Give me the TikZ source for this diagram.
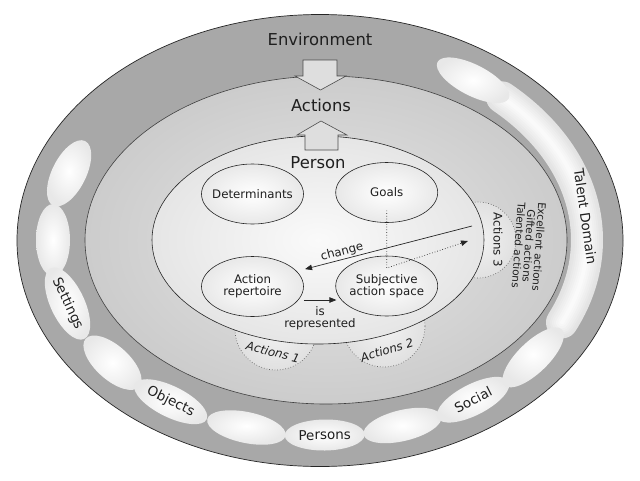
\documentclass[tikz,border=0pt]{standalone}
\usepackage{fontspec}
\setmainfont{DejaVu Sans}
\usetikzlibrary{shapes.geometric,arrows.meta,calc}
\begin{document}
\begin{tikzpicture}[x=1pt,y=-1pt,
  txt/.style={text=black!88, inner sep=0pt},
  big/.style={txt, font=\fontsize{16.4}{19}\selectfont},
  mid/.style={txt, font=\fontsize{11.8}{12.3}\selectfont, align=center},
  itl/.style={txt, font=\fontsize{11.8}{13}\selectfont\itshape},
  sml/.style={txt, font=\fontsize{10.5}{10.3}\selectfont, align=center},
  bl/.style={txt, font=\fontsize{13.5}{15}\selectfont},
  blob/.style={ellipse, inner sep=0pt, minimum width=80pt, minimum height=31pt,
    inner color=white, outer color=black!9, text=black!88, font=\fontsize{13.5}{15}\selectfont},
  sblob/.style={blob, minimum width=72pt, minimum height=34pt},
  inell/.style={ellipse, draw=black!85, line width=0.6pt, minimum width=102pt, minimum height=60pt,
    inner sep=0pt, inner color=white, outer color=black!9},
  acirc/.style={circle, draw=black!60, dotted, line width=0.7pt, minimum size=82pt, inner sep=0pt,
    inner color=black!5, outer color=black!12},
  conn/.style={draw=black!85, line width=0.7pt, -{Triangle[length=7pt,width=5.5pt]}},
  dconn/.style={conn, dotted},
  barrow/.style={draw=black!70, line width=0.6pt, fill=black!13, line join=miter}
]
\useasboundingbox (0,0) rectangle (640,480);
\fill[white] (0,0) rectangle (640,480);

% Environment
\node[ellipse, draw=black!85, line width=0.7pt, fill=black!34, minimum width=606pt,
  minimum height=452pt, inner sep=0pt] (env) at (320,240.5) {};

% long talent-domain blob
\foreach \w/\c in {32/11,28/10,24/8.5,20/7,16/6,12/4.5,8/3,4/2}{
  \draw[line width=\w pt, line cap=round, draw=black!\c]
    plot[domain=-25:47, samples=60] ({320+267*cos(\x)},{240-195*sin(\x)});
}

% blobs
\node[sblob, rotate=63.5] (blobA) at (69.1,173.3) {};
\node[sblob, rotate=90] (blobB) at (53,240) {};
\node[sblob, rotate=-64.8, minimum width=76pt] (settings) at (67.5,303.5) {Settings};
\node[sblob, rotate=-42] (blobC) at (112.5,362.7) {};
\node[blob, rotate=-26.2] (objects) at (170.7,401.7) {Objects};
\node[blob, rotate=-11.8] (blobD) at (246.4,427.5) {};
\node[blob, rotate=0.7] (persons) at (324.7,435) {Persons};
\node[blob, rotate=13.4] (blobE) at (402.5,425.5) {};
\node[blob, rotate=27.1] (social) at (473.1,399.7) {Social};
\node[blob, rotate=44.1] (blobF) at (533.2,357.4) {};
\node[blob, rotate=-27.1] (blobG) at (473.1,80.3) {};

% Actions ellipse
\node[ellipse, draw=black!75, line width=0.6pt, minimum width=482pt, minimum height=328pt,
  inner sep=0pt, inner color=black!10, outer color=black!20] (actell) at (326,240) {};

% action circles
\node[acirc] (act1) at (276,329) {};
\node[acirc] (act2) at (384,326) {};
\node[acirc, minimum size=76pt] (act3) at (478,240) {};

% Person
\node[ellipse, draw=black!85, line width=0.6pt, minimum width=332pt, minimum height=208pt,
  inner sep=0pt, inner color=black!2, outer color=black!10] (person) at (318,240) {};

% block arrows
\draw[barrow] (303,60) -- (337,60) -- (337,76) -- (346,76) -- (320.5,90) -- (295,76) -- (303,76) -- cycle;
\draw[barrow] (305,150) -- (305,135) -- (297,135) -- (321,121) -- (347,135) -- (338,135) -- (338,150) -- cycle;

% inner ellipses
\node[inell, label={[mid]center:Determinants}] (det) at (252.5,194) {};
\node[inell, label={[mid]center:Goals}] (goals) at (386.7,192.5) {};
\node[inell, label={[mid]center:Action\\repertoire}] (rep) at (252.5,286.5) {};
\node[inell, label={[mid]center:Subjective\\action space}] (subj) at (386.7,286) {};

% labels
\node[big] (envlbl) at (320,39) {Environment};
\node[big] (actlbl) at (321,105) {Actions};
\node[big] (perlbl) at (318,163) {Person};
\node[itl, rotate=-14] (a1lbl) at (273,352) {Actions 1};
\node[itl, rotate=17] (a2lbl) at (387,350) {Actions 2};
\node[mid, rotate=-90] (a3lbl) at (498,240) {Actions 3};
\node[sml, rotate=-94] (lvls) at (529,246) {Excellent actions\\Gifted actions\\Talented actions};
\node[bl, rotate=-82] (tdlbl) at (585.5,216.5) {Talent Domain};

% connectors
\coordinate (chgstart) at (472,226);
\draw[conn, shorten >=8.5pt] (chgstart) -- (rep.19);
\node[mid, rotate=14.6] (chglbl) at (342,252) {change};
\draw[conn] ($(rep.east)+(0,13.5)$) -- ($(subj.west)+(1,14)$);
\node[mid] (isrep) at (320,318) {is\\represented};
\coordinate (dotend) at (468,241);
\draw[dconn] ($(goals.center)+(0,18)$) -- ($(subj.center)+(0,-18)$) -- (dotend);
\end{tikzpicture}
\end{document}
